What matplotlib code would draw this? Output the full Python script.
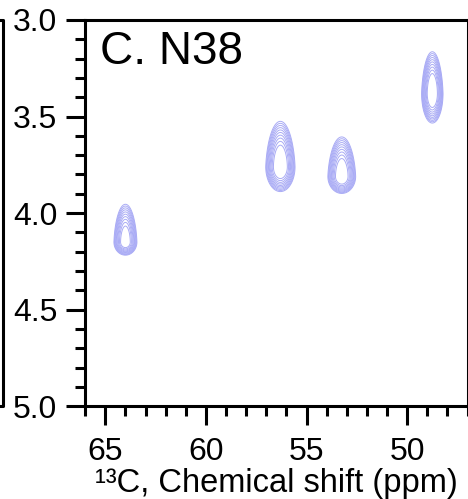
import numpy as np
import matplotlib
matplotlib.use("Agg")
import matplotlib.pyplot as plt
from matplotlib.ticker import MultipleLocator, FormatStrFormatter
from matplotlib.lines import Line2D

plt.rcParams["font.family"] = ["Liberation Sans", "DejaVu Sans"]

# N38 cross peaks: 13C shift, 1H shift, relative height, line widths (ppm)
peak_c = [64.0, 56.3, 53.25, 48.75]
peak_h = [4.15, 3.76, 3.81, 3.38]
peak_amp = [0.8, 1.0, 0.9, 1.0]
width_c = [0.21, 0.26, 0.25, 0.19]
width_h_up = [0.072, 0.084, 0.074, 0.077]
width_h_down = [0.025, 0.046, 0.032, 0.055]

contour_base = 0.02
contour_factor = 1.4
n_levels = 10

x = np.linspace(66, 47, 900)
y = np.linspace(3.0, 5.0, 900)
X, Y = np.meshgrid(x, y)
Z = np.zeros_like(X)
for c, h, a, wc, wu, wd in zip(peak_c, peak_h, peak_amp, width_c, width_h_up, width_h_down):
    dy = Y - h
    sy = np.where(dy < 0, wu, wd)
    # slightly narrower toward the upfield tail
    taper = 1 - 0.08 * np.tanh(np.clip(-dy / wu, 0, None) / 2)
    Z += a * np.exp(-0.5 * ((X - c) / (wc * taper)) ** 2 - 0.5 * (dy / sy) ** 2)

levels = contour_base * contour_factor ** np.arange(n_levels)

fig = plt.figure(figsize=(4.68, 4.99), dpi=100)
ax = fig.add_axes([0.182, 0.186, 0.817, 0.774])
ax.contour(X, Y, Z, levels=levels, colors="#a9abf5", linewidths=0.7)

ax.set_xlim(66, 47)
ax.set_ylim(5.0, 3.0)
ax.xaxis.set_major_locator(MultipleLocator(5))
ax.xaxis.set_minor_locator(MultipleLocator(1))
ax.yaxis.set_major_locator(MultipleLocator(0.5))
ax.yaxis.set_minor_locator(MultipleLocator(0.1))
ax.yaxis.set_major_formatter(FormatStrFormatter("%.1f"))
ax.tick_params(which="major", direction="out", length=14, width=2.2, labelsize=23, pad=6)
ax.tick_params(which="minor", direction="out", length=7, width=2.2)
ax.tick_params(axis="x", which="major", pad=8)
for s in ax.spines.values():
    s.set_linewidth(2.2)

ax.text(0.04, 0.975, "C. N38", transform=ax.transAxes, fontsize=33, va="top", ha="left")
ax.set_xlabel("¹³C, Chemical shift (ppm)", fontsize=23.5, labelpad=1)

# edge of the neighbouring panel
fig.add_artist(Line2D([0.0, 0.007, 0.007, 0.0], [0.96, 0.96, 0.186, 0.186],
                      transform=fig.transFigure, color="black", lw=2.2))

fig.savefig("out.png", dpi=100)
